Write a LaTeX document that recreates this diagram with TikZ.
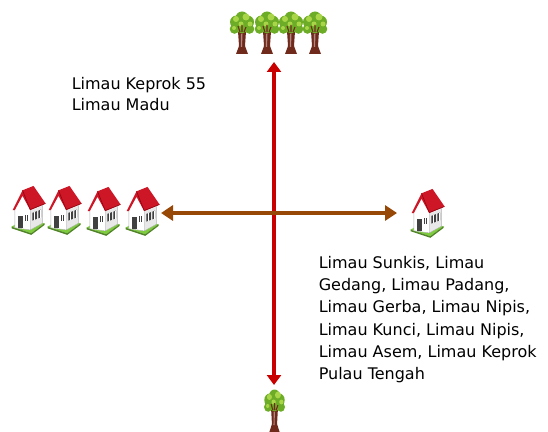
\documentclass[tikz,border=0pt]{standalone}
\usepackage{fontspec}
\setmainfont{DejaVu Sans}
\usetikzlibrary{arrows.meta}

\definecolor{arrowred}{RGB}{200,0,0}
\definecolor{arrowbrown}{RGB}{152,72,6}
\definecolor{roofred}{RGB}{205,22,38}
\definecolor{roofdark}{RGB}{140,0,12}
\definecolor{grassgreen}{RGB}{125,205,60}
\definecolor{leafgreen}{RGB}{108,172,38}
\definecolor{leaflight}{RGB}{168,214,72}
\definecolor{barkbrown}{RGB}{112,42,28}

\tikzset{
  % small house icon, about 33 x 48
  house/.pic={
    \fill[grassgreen] (-15,16) -- (3,22) -- (15,13) -- (-2,9) -- cycle;
    \fill[grassgreen!65!black] (-15,16) -- (3,22) -- (15,13) -- (15,14.5) -- (3,23.5) -- (-15,17.5) -- cycle;
    \filldraw[fill=white, draw=gray!60, line width=0.3pt] (-12,17) -- (-12,-1) -- (-5,-13) -- (2,-1) -- (2,19) -- cycle;
    \filldraw[fill=gray!18, draw=gray!60, line width=0.3pt] (2,-1) -- (13,-5) -- (13,13) -- (2,19) -- cycle;
    \fill[roofred] (-14,1) -- (-5,-17) -- (5,-21) -- (16,-5) -- (2,1) -- (-5,-12) -- (-12,1) -- cycle;
    \draw[roofdark, line width=0.4pt] (-5,-17) -- (2,0.5) -- (16,-5);
    \fill[black!75] (-9,6) rectangle (-5,17);
    \fill[black!75] (-3,5) rectangle (0,11);
    \fill[black!75] (4,3.5) -- (8,2) -- (8,9) -- (4,10.5) -- cycle;
    \fill[black!75] (9.5,1.5) -- (12,0.5) -- (12,7.5) -- (9.5,8.5) -- cycle;
    \draw[white, line width=0.4pt] (6,2.75) -- (6,9.75) (10.75,1) -- (10.75,8) (-1.5,5) -- (-1.5,11);
  },
  % small tree icon, about 24 x 43
  tree/.pic={
    \fill[barkbrown] (-4,-2) -- (-3,13) -- (-6,21) -- (6,21) -- (3,13) -- (4,-2) -- cycle;
    \fill[barkbrown!55!white] (-1,1) -- (0.5,1) -- (0,14) -- (-1.2,14) -- cycle;
    \fill[leafgreen] (-5.5,-11) circle (6.5) (5.5,-11) circle (6.5) (0,-15) circle (6.5)
      (-7.5,-4) circle (4.8) (7.5,-4) circle (4.8) (0,-5) circle (5.5);
    \fill[leaflight] (-6,-14) circle (3) (4,-16) circle (3.5) (-1,-9) circle (2.5) (8,-9) circle (2.5)
      (-8,-5) circle (2);
    \draw[barkbrown, line width=0.8pt] (-2,-1) -- (-4,-7) (2,-1) -- (4,-6) (0,-1) -- (0,-8);
  },
  icon/.style={yscale=-1},
  redaxis/.style={draw=arrowred, line width=3.4pt,
    {Triangle[length=7.5pt,width=10.5pt]}-{Triangle[length=7.5pt,width=10.5pt]}},
  brownaxis/.style={draw=arrowbrown, line width=3.6pt,
    {Triangle[length=9pt,width=11.25pt]}-{Triangle[length=9pt,width=11.25pt]}},
  fruitlist/.style={anchor=north west, inner sep=0pt, align=left,
    font=\fontsize{12}{#1}\selectfont},
  fruitlist/.default=16.5
}

\begin{document}
\begin{tikzpicture}[x=0.75pt,y=0.75pt,yscale=-1,xscale=1]
  \useasboundingbox (0,0) rectangle (548,431);

  %Shape: Trees (top)
  \foreach \tx in {242,267,291,315}
    \pic[icon] at (\tx,33) {tree};
  %Shape: Tree (bottom)
  \pic[icon, xscale=0.85] at (274.5,411) {tree};

  %Shape: Houses (left)
  \foreach \hx/\hy in {28/209,64/209,103/210,142/210}
    \pic[icon, scale=1.1] at (\hx,\hy) {house};
  %Shape: House (right)
  \pic[icon, scale=1.1] at (427,212) {house};

  % arrow ends
  \coordinate (up) at (274,62);
  \coordinate (down) at (274,385);
  \coordinate (west) at (161,213);
  \coordinate (east) at (397,213);

  %Straight Lines
  \draw [redaxis] (down) -- (up);
  %Straight Lines
  \draw [brownaxis] (west) -- (east);

  % Text Node
  \node (keprokText) [fruitlist=16] at (71.5,77) {Limau Keprok 55\\Limau Madu};
  % Text Node
  \node (sunkisText) [fruitlist=16.7] at (318.5,256) {Limau Sunkis, Limau\\Gedang, Limau Padang,\\Limau Gerba, Limau Nipis,\\Limau Kunci, Limau Nipis,\\Limau Asem, Limau Keprok\\Pulau Tengah};
\end{tikzpicture}
\end{document}
